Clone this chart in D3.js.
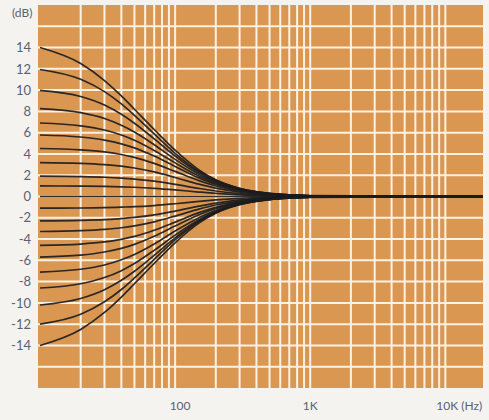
<!DOCTYPE html>
<html><head><meta charset="utf-8">
<script src="https://cdn.jsdelivr.net/npm/d3@7"></script>
<style>
html,body{margin:0;padding:0;background:#f4f3ef;}
svg{display:block;}
text{font-family:Lato,"Open Sans",sans-serif;font-weight:400;fill:#596173;}
</style></head><body>
<svg id="c" width="489" height="420"></svg>
<script>
// frequencies (Hz) at which the curves were read
const freqs = [10, 20, 30, 40, 50, 70, 100, 150, 200, 300, 500, 700, 1000, 19000];
// boost curves (dB)
const boost1  = [0.99, 0.98, 0.95, 0.91, 0.87, 0.77, 0.62, 0.42, 0.29, 0.15, 0.06, 0.03, 0.02, 0];
const boost2  = [1.91, 1.87, 1.81, 1.73, 1.64, 1.44, 1.14, 0.76, 0.52, 0.27, 0.11, 0.06, 0.03, 0];
const boost3  = [3.19, 3.12, 3.00, 2.85, 2.68, 2.31, 1.79, 1.16, 0.78, 0.40, 0.16, 0.08, 0.04, 0];
const boost4  = [4.51, 4.38, 4.19, 3.95, 3.68, 3.11, 2.36, 1.49, 0.99, 0.50, 0.20, 0.10, 0.05, 0];
const boost5  = [5.78, 5.59, 5.30, 4.95, 4.57, 3.80, 2.82, 1.75, 1.14, 0.58, 0.22, 0.12, 0.06, 0];
const boost6  = [6.91, 6.64, 6.25, 5.78, 5.29, 4.33, 3.16, 1.93, 1.25, 0.63, 0.24, 0.13, 0.06, 0];
const boost7  = [8.26, 7.88, 7.33, 6.70, 6.06, 4.87, 3.49, 2.10, 1.35, 0.68, 0.26, 0.14, 0.07, 0];
const boost8  = [9.98, 9.40, 8.60, 7.73, 6.89, 5.42, 3.81, 2.25, 1.45, 0.72, 0.28, 0.14, 0.07, 0];
const boost9  = [11.94, 11.02, 9.86, 8.70, 7.63, 5.88, 4.06, 2.37, 1.52, 0.75, 0.29, 0.15, 0.07, 0];
const boost10 = [14.0, 12.5, 10.9, 9.45, 8.2, 6.3, 4.35, 2.5, 1.57, 0.77, 0.29, 0.15, 0.08, 0];
// flat
const flat    = [0, 0, 0, 0, 0, 0, 0, 0, 0, 0, 0, 0, 0, 0];
// cut curves (dB)
const cut1  = [-1.09, -1.08, -1.05, -1.0, -0.96, -0.85, -0.68, -0.46, -0.32, -0.17, -0.07, -0.04, -0.02, 0];
const cut2  = [-2.29, -2.24, -2.17, -2.08, -1.97, -1.73, -1.37, -0.91, -0.62, -0.32, -0.13, -0.07, -0.03, 0];
const cut3  = [-3.29, -3.21, -3.09, -2.94, -2.76, -2.38, -1.84, -1.19, -0.80, -0.41, -0.16, -0.08, -0.04, 0];
const cut4  = [-4.6, -4.47, -4.27, -4.03, -3.75, -3.17, -2.41, -1.52, -1.01, -0.51, -0.2, -0.1, -0.05, 0];
const cut5  = [-5.69, -5.51, -5.22, -4.88, -4.5, -3.74, -2.78, -1.72, -1.12, -0.57, -0.22, -0.12, -0.06, 0];
const cut6  = [-7.1, -6.84, -6.44, -5.95, -5.45, -4.46, -3.25, -1.99, -1.29, -0.65, -0.25, -0.13, -0.06, 0];
const cut7  = [-8.6, -8.2, -7.62, -6.97, -6.3, -5.06, -3.63, -2.18, -1.4, -0.71, -0.27, -0.14, -0.07, 0];
const cut8  = [-10.2, -9.59, -8.77, -7.88, -7.03, -5.53, -3.89, -2.3, -1.48, -0.73, -0.28, -0.15, -0.07, 0];
const cut9  = [-12.0, -11.07, -9.9, -8.74, -7.66, -5.9, -4.08, -2.38, -1.53, -0.75, -0.29, -0.15, -0.07, 0];
const cut10 = [-14.0, -12.5, -10.9, -9.45, -8.2, -6.3, -4.35, -2.5, -1.57, -0.77, -0.29, -0.15, -0.08, 0];

// ticks
const yTickValues = [14, 12, 10, 8, 6, 4, 2, 0, -2, -4, -6, -8, -10, -12, -14];
const yGridValues = [16, 14, 12, 10, 8, 6, 4, 2, 0, -2, -4, -6, -8, -10, -12, -14, -16];
const xGridValues = [20,30,40,50,60,70,80,90,100,200,300,400,500,600,700,800,900,1000,2000,3000,4000,5000,6000,7000,8000,9000,10000];
const xTickLabels = [{f:100, t:"100"}, {f:1000, t:"1K"}, {f:10000, t:"10K (Hz)"}];
const yUnit = "(dB)";

const series = [boost10,boost9,boost8,boost7,boost6,boost5,boost4,boost3,boost2,boost1,flat,
                cut1,cut2,cut3,cut4,cut5,cut6,cut7,cut8,cut9,cut10];

const svg = d3.select("#c");
const L = 40, R = 483, T = 5, B = 388;
const x = d3.scaleLog().domain([10, 19000]).range([L, R]);
const y = d3.scaleLinear().domain([-18, 18]).range([B, T]);

svg.append("rect").attr("x", L-2).attr("y", T).attr("width", R-L+2).attr("height", B-T)
   .attr("fill", "#da9752");

const grid = svg.append("g").attr("stroke", "#fcf2e4").attr("stroke-width", 2);
grid.selectAll("line.v").data(xGridValues).join("line").attr("class","v")
  .attr("x1", d=>x(d)).attr("x2", d=>x(d)).attr("y1", T).attr("y2", B);
grid.selectAll("line.h").data(yGridValues).join("line").attr("class","h")
  .attr("x1", L-2).attr("x2", R).attr("y1", d=>y(d)).attr("y2", d=>y(d));

const line = d3.line().x((d,i)=>x(freqs[i])).y(d=>y(d)).curve(d3.curveMonotoneX);
svg.append("g").selectAll("path").data(series).join("path")
  .attr("d", d=>line(d)).attr("fill","none").attr("stroke","#1c1c1e")
  .attr("stroke-width",1.7).attr("stroke-opacity",0.92);

// y labels
svg.append("g").selectAll("text").data(yTickValues).join("text")
  .attr("x", 31).attr("y", d=>y(d)).attr("dy","0.36em").attr("text-anchor","end")
  .attr("font-size", 13).text(d => d < 0 ? "-" + Math.abs(d) : String(d));
svg.append("text").attr("x", 12).attr("y", 13).attr("dy","0.36em").attr("font-size", 12).text(yUnit);

// x labels
svg.append("g").selectAll("text").data(xTickLabels).join("text")
  .attr("x", d => d.f === 10000 ? x(d.f) - 9 : x(d.f) + (d.f===100 ? 5 : 0))
  .attr("y", 406).attr("dy","0.36em")
  .attr("text-anchor", d => d.f === 10000 ? "start" : "middle")
  .attr("font-size", 12).text(d=>d.t);
</script>
</body></html>
